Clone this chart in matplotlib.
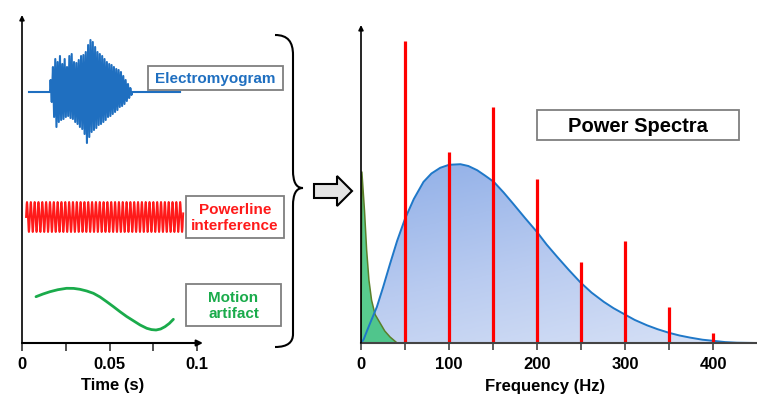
import numpy as np
import matplotlib
matplotlib.use("Agg")
import matplotlib.pyplot as plt
from matplotlib.path import Path
from matplotlib.patches import PathPatch, Polygon, Rectangle
from matplotlib.colors import LinearSegmentedColormap

plt.rcParams['font.family'] = ['Liberation Sans', 'DejaVu Sans']
plt.rcParams['font.weight'] = 'bold'

# --- time-domain signals (heights in px above the time axis) ---
emg_offset = 251
emg_t_line = [0.004, 0.0903]
emg_t_burst = [0.016, 0.0629]
emg_up = [12, 25, 33, 30, 36, 28, 33, 25, 36, 38, 30, 29, 32, 36, 37, 40, 47, 52,
          50, 45, 40, 38, 36, 33, 30, 28, 27, 25, 23, 22, 20, 16, 12, 8, 4]
emg_down = [10, 25, 35, 30, 28, 27, 25, 24, 26, 27, 30, 32, 35, 37, 42, 51, 45, 40,
            38, 36, 33, 32, 30, 28, 25, 24, 22, 20, 18, 15, 14, 12, 9, 6, 3]

pl_offset = 126
pl_amp = 15
pl_freq = 457.0
pl_t = [0.0023, 0.0921]

motion_t = [0.008, 0.012, 0.016, 0.0205, 0.0255, 0.0295, 0.0331, 0.037, 0.0408,
            0.0446, 0.0484, 0.0522, 0.056, 0.0598, 0.0636, 0.0675, 0.0713, 0.074,
            0.0766, 0.0792, 0.0817, 0.0842, 0.0865]
motion_y = [46.3, 49.0, 51.3, 53.3, 54.7, 54.6, 53.7, 52.0, 49.7, 46.0, 41.3, 36.4,
            31.3, 26.5, 22.3, 18.0, 14.7, 13.4, 13.0, 14.0, 16.3, 19.6, 23.7]

time_ticks = [0, 0.025, 0.05, 0.075, 0.1]
time_labels = ['0', '', '0.05', '', '0.1']

# --- spectra ---
emg_f = [0, 3, 7, 12, 18, 25, 33, 41, 50, 60, 71, 80, 90, 100, 113, 122, 132, 141,
         151, 162, 173, 186, 200, 211, 223, 236, 249, 262, 276, 287, 298, 311, 325,
         337, 350, 362, 374, 388, 401, 414, 427, 450]
emg_p = [0, 1.2, 4.2, 7.8, 12, 18.5, 26.4, 34, 41.4, 48, 53.7, 56.5, 58.4, 59.4,
         59.6, 59, 57.6, 55.8, 53.7, 50.2, 46.4, 41.8, 37, 32.8, 28.7, 24.4, 20.3,
         16.8, 13.7, 11.6, 9.8, 7.7, 5.9, 4.6, 3.4, 2.5, 1.8, 1.1, 0.7, 0.3, 0.1, 0]
motion_f = [0, 1, 4, 6.4, 9, 12, 16, 21.6, 27, 33, 41]
motion_p = [0, 57, 44, 31, 21, 14.3, 9.5, 6.7, 4, 2, 0]
line_f = [50, 100, 150, 200, 250, 300, 350, 400]
line_p = [100.7, 63.7, 78.7, 54.7, 27, 34, 12, 3.3]

freq_ticks = [0, 50, 100, 150, 200, 250, 300, 350, 400]
freq_labels = ['0', '', '100', '', '200', '', '300', '', '400']

W, H = 757, 396
fig = plt.figure(figsize=(W / 100, H / 100), dpi=100)

# overlay in pixel coords for brace, arrow and label boxes
ov = fig.add_axes([0, 0, 1, 1])
ov.set_xlim(0, W)
ov.set_ylim(H, 0)
ov.axis('off')


def px_axes(x0, y0, x1, y1):
    return fig.add_axes([x0 / W, (H - y1) / H, (x1 - x0) / W, (y1 - y0) / H])


# ---------- left: time signals ----------
ax1 = px_axes(22, 15, 300, 343)
ax1.set_xlim(0, (300 - 22) / 1750)
ax1.set_ylim(0, 328)
ax1.patch.set_alpha(0)
for s in ax1.spines.values():
    s.set_visible(False)

# EMG burst
T = (emg_t_burst[1] - emg_t_burst[0]) / len(emg_up)
et = [emg_t_line[0], emg_t_burst[0]]
ey = [0, 0]
for k, (u, d) in enumerate(zip(emg_up, emg_down)):
    et += [emg_t_burst[0] + (k + 0.25) * T, emg_t_burst[0] + (k + 0.75) * T]
    ey += [u, -d]
et += [emg_t_burst[1], emg_t_line[1]]
ey += [0, 0]
ax1.plot(et, np.array(ey) + emg_offset, color='#1f6fc0', lw=1.5)

# powerline
tt = np.linspace(pl_t[0], pl_t[1], 3000)
ax1.plot(tt, pl_offset + pl_amp * np.sin(2 * np.pi * pl_freq * (tt - pl_t[0])),
         color='#ff1a1a', lw=1.4)

# motion artifact
ax1.plot(motion_t, motion_y, color='#1aab4b', lw=2.0, solid_capstyle='round')

ax1.annotate('', xy=(0.1034, 0), xytext=(0, 0),
             arrowprops=dict(arrowstyle='-|>', color='black', lw=1.5, mutation_scale=9,
                             shrinkA=0, shrinkB=0))
ax1.annotate('', xy=(0, 328), xytext=(0, 0),
             arrowprops=dict(arrowstyle='-|>', color='black', lw=1.2, mutation_scale=7,
                             shrinkA=0, shrinkB=0))
ax1.set_xticks(time_ticks)
ax1.set_xticklabels(time_labels, fontsize=12, fontweight='bold')
ax1.tick_params(axis='x', length=6, width=1.2, color='#333333', pad=4)
ax1.set_yticks([])
ax1.set_xlabel('Time (s)', fontsize=12, fontweight='bold')
ax1.xaxis.set_label_coords(91 / 278, -0.108)

# ---------- right: power spectra ----------
ax2 = px_axes(361, 25, 757, 343)
ax2.patch.set_alpha(0)
xmax = (757 - 361) / 0.88
ax2.set_xlim(0, xmax)
ax2.set_ylim(0, 106)

poly = ax2.fill_between(emg_f, emg_p, 0, color='none', lw=0)
gx, gy = np.meshgrid(np.linspace(0, xmax, 300), np.linspace(0, 106, 200))
grad = np.clip(0.7 * gy / 60 + 0.35 * (1 - gx / 450), 0, 1)
cmap = LinearSegmentedColormap.from_list('bl', ['#d8e2f6', '#b9cbf0', '#93b1e8'])
im = ax2.imshow(grad, extent=[0, xmax, 0, 106], origin='lower', aspect='auto',
                cmap=cmap, vmin=0, vmax=1, zorder=1)
im.set_clip_path(poly.get_paths()[0], transform=ax2.transData)
ax2.plot(emg_f, emg_p, color='#1f78c8', lw=1.4, zorder=3)

ax2.fill_between(motion_f, motion_p, 0, facecolor='#3cc47a', alpha=0.85,
                 edgecolor='none', zorder=2)
ax2.plot(motion_f, motion_p, color='#5b7f2a', lw=1.1, zorder=2.5)

ax2.vlines(line_f, 0, line_p, color='#ff0000', lw=2.3, zorder=4)

ax2.set_xlim(0, xmax)
ax2.set_ylim(0, 106)
for side in ['top', 'right', 'left']:
    ax2.spines[side].set_visible(False)
ax2.spines['bottom'].set_color('#444444')
ax2.spines['bottom'].set_linewidth(1.5)
ax2.spines['bottom'].set_zorder(5)
ax2.annotate('', xy=(0, 106), xytext=(0, 0),
             arrowprops=dict(arrowstyle='-|>', color='black', lw=1.2, mutation_scale=7,
                             shrinkA=0, shrinkB=0), zorder=6)
ax2.set_xticks(freq_ticks)
ax2.set_xticklabels(freq_labels, fontsize=12, fontweight='bold')
ax2.tick_params(axis='x', length=5, width=1.2, color='#444444', pad=5)
ax2.set_yticks([])
ax2.set_xlabel('Frequency (Hz)', fontsize=12, fontweight='bold')
ax2.xaxis.set_label_coords((545 - 361) / 396, -0.114)

# ---------- overlay: label boxes, brace, arrow ----------
boxes = [((148, 66, 283, 90), 'Electromyogram', '#1f6fc0', 11),
         ((186, 196, 284, 238), 'Powerline\ninterference', '#ff1a1a', 11),
         ((186, 284, 281, 326), 'Motion\nartifact', '#1aab4b', 11),
         ((537, 110, 739, 140), 'Power Spectra', 'black', 14.5)]
for (x0, y0, x1, y1), txt, col, fs in boxes:
    ov.add_patch(Rectangle((x0, y0), x1 - x0, y1 - y0, fill=False,
                           edgecolor='#7f7f7f', lw=1.3))
    ov.text((x0 + x1) / 2, (y0 + y1) / 2 + 1, txt, color=col, fontsize=fs,
            fontweight='bold', ha='center', va='center', linespacing=1.15)

verts = [(275, 35), (288, 35), (293, 42), (293, 55),
         (293, 170),
         (293, 182), (296, 188), (303, 188),
         (296, 188), (293, 194), (293, 206),
         (293, 334),
         (293, 342), (288, 347), (275, 347)]
codes = [Path.MOVETO, Path.CURVE4, Path.CURVE4, Path.CURVE4,
         Path.LINETO,
         Path.CURVE4, Path.CURVE4, Path.CURVE4,
         Path.CURVE4, Path.CURVE4, Path.CURVE4,
         Path.LINETO,
         Path.CURVE4, Path.CURVE4, Path.CURVE4]
ov.add_patch(PathPatch(Path(verts, codes), fill=False, lw=1.5, edgecolor='black'))

ov.add_patch(Polygon([(314, 184), (337, 184), (337, 176), (352, 191), (337, 206),
                      (337, 198), (314, 198)], closed=True, facecolor='#e3e3e3',
                     edgecolor='black', lw=1.5))

fig.savefig('out.png', dpi=100)
